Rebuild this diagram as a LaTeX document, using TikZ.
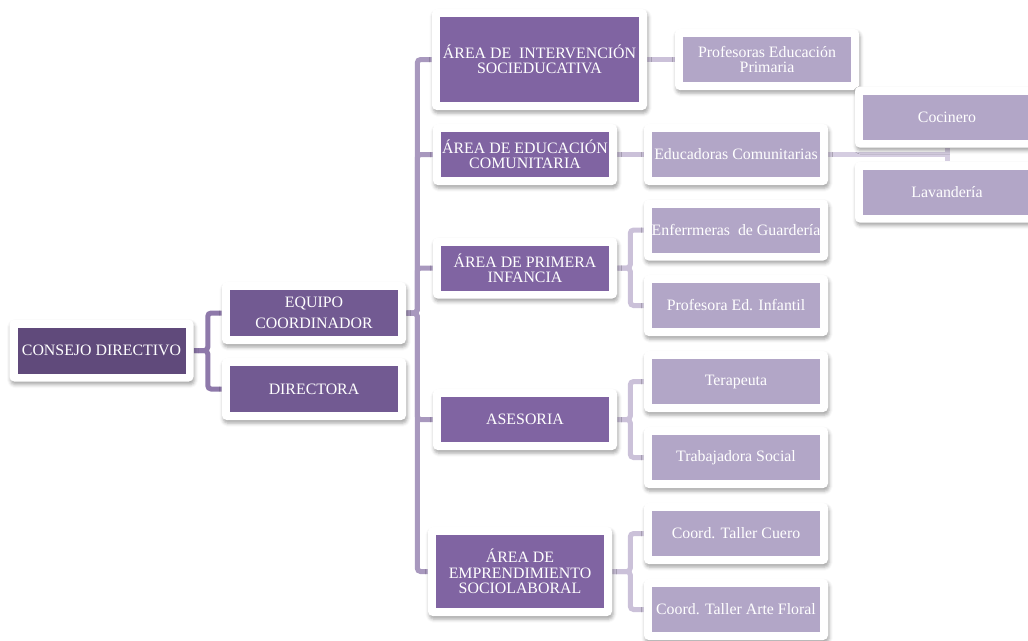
\documentclass[tikz,border=0pt]{standalone}
\usepackage{fontspec}
\setmainfont{Liberation Serif}
\usetikzlibrary{shadows.blur,backgrounds}

\definecolor{consejofill}{HTML}{604A7B}
\definecolor{equipofill}{HTML}{725A92}
\definecolor{areafill}{HTML}{8064A2}
\definecolor{puestofill}{HTML}{B2A6C7}
\definecolor{lineone}{HTML}{8E79AA}
\definecolor{linetwo}{HTML}{A898BE}
\definecolor{linethree}{HTML}{CBC1D9}
\definecolor{linefour}{HTML}{D5CDE1}

\begin{document}
\begin{tikzpicture}[x=0.75pt,y=-0.75pt,
    box/.style={rectangle,fill=white,rounded corners=3.5pt,
        inner sep=0pt,text=white,align=center,
        font=\fontsize{11.9}{11.5}\selectfont,
        minimum width=138pt,minimum height=45.75pt,
        blur shadow={shadow xshift=0.8pt,shadow yshift=-2.4pt,
            shadow blur radius=2.6pt,shadow opacity=35},
        path picture={\fill[#1,sharp corners]
            ([shift={(6pt,6pt)}]path picture bounding box.south west) rectangle
            ([shift={(-6pt,-6pt)}]path picture bounding box.north east);}},
    jefe/.style={box=consejofill,minimum height=46.5pt},
    equipo/.style={box=equipofill,minimum height=46.5pt},
    area/.style={box=areafill},
    puesto/.style={box=puestofill},
    conn/.style={line width=3.75pt,rounded corners=2.5pt}]

    \useasboundingbox (0,0) rectangle (1028,640);

    % nivel 1
    \node[jefe] (consejo) at (101.5, 350.5) {CONSEJO DIRECTIVO};

    % nivel 2
    \node[equipo] (equipo) at (314, 313) {EQUIPO\\[4pt]COORDINADOR};
    \node[equipo] (directora) at (314, 389) {DIRECTORA};

    % areas
    \node[area,minimum width=161.25pt,minimum height=75.75pt] (intervencion) at (539.5, 59.5) {ÁREA DE\ \ INTERVENCIÓN\\SOCIEDUCATIVA};
    \node[area] (comunitaria) at (525, 154.5) {ÁREA DE EDUCACIÓN\\COMUNITARIA};
    \node[area] (infancia) at (525, 268) {ÁREA DE PRIMERA\\INFANCIA};
    \node[area] (asesoria) at (525, 419.5) {ASESORIA};
    \node[area,minimum height=66.75pt] (emprendimiento) at (520, 571.5) {ÁREA DE\\EMPRENDIMIENTO\\SOCIOLABORAL};

    % puestos
    \node[puesto] (profesoras) at (767, 59.5) {Profesoras Educación\\Primaria};
    \node[puesto] (educadoras) at (736, 154.5) {Educadoras Comunitarias};
    \node[puesto] (cocinero) at (947, 117) {Cocinero};
    \node[puesto] (lavanderia) at (947, 192) {Lavandería};
    \node[puesto] (enfermeras) at (736, 230) {Enferrmeras\ \ de Guardería};
    \node[puesto] (infantil) at (736, 305.5) {Profesora Ed. Infantil};
    \node[puesto] (terapeuta) at (736, 381.5) {Terapeuta};
    \node[puesto] (trabajadora) at (736, 457.5) {Trabajadora Social};
    \node[puesto] (cuero) at (736, 533.5) {Coord. Taller Cuero};
    \node[puesto] (floral) at (736, 609.5) {Coord. Taller Arte Floral};

    \begin{scope}[on background layer]
        \draw[conn,lineone] (consejo.east) -- ++(14,0) |- (equipo.west);
        \draw[conn,lineone] (consejo.east) -- ++(14,0) |- (directora.west);

        \foreach \a in {intervencion,comunitaria,infancia,asesoria,emprendimiento}
            \draw[conn,linetwo] (equipo.east) -- ++(11,0) |- (\a.west);

        \draw[conn,linethree] (intervencion.east) -- (profesoras.west);
        \draw[conn,linethree] (comunitaria.east) -- (educadoras.west);
        \draw[conn,linethree] (infancia.east) -- ++(13,0) |- (enfermeras.west);
        \draw[conn,linethree] (infancia.east) -- ++(13,0) |- (infantil.west);
        \draw[conn,linethree] (asesoria.east) -- ++(13,0) |- (terapeuta.west);
        \draw[conn,linethree] (asesoria.east) -- ++(13,0) |- (trabajadora.west);
        \draw[conn,linethree] (emprendimiento.east) -- ++(18,0) |- (cuero.west);
        \draw[conn,linethree] (emprendimiento.east) -- ++(18,0) |- (floral.west);

        \draw[conn,linefour] (educadoras.east) -- (educadoras.east -| cocinero.south);
        \draw[conn,linefour] (cocinero.south) -- (lavanderia.north);
    \end{scope}
\end{tikzpicture}
\end{document}
